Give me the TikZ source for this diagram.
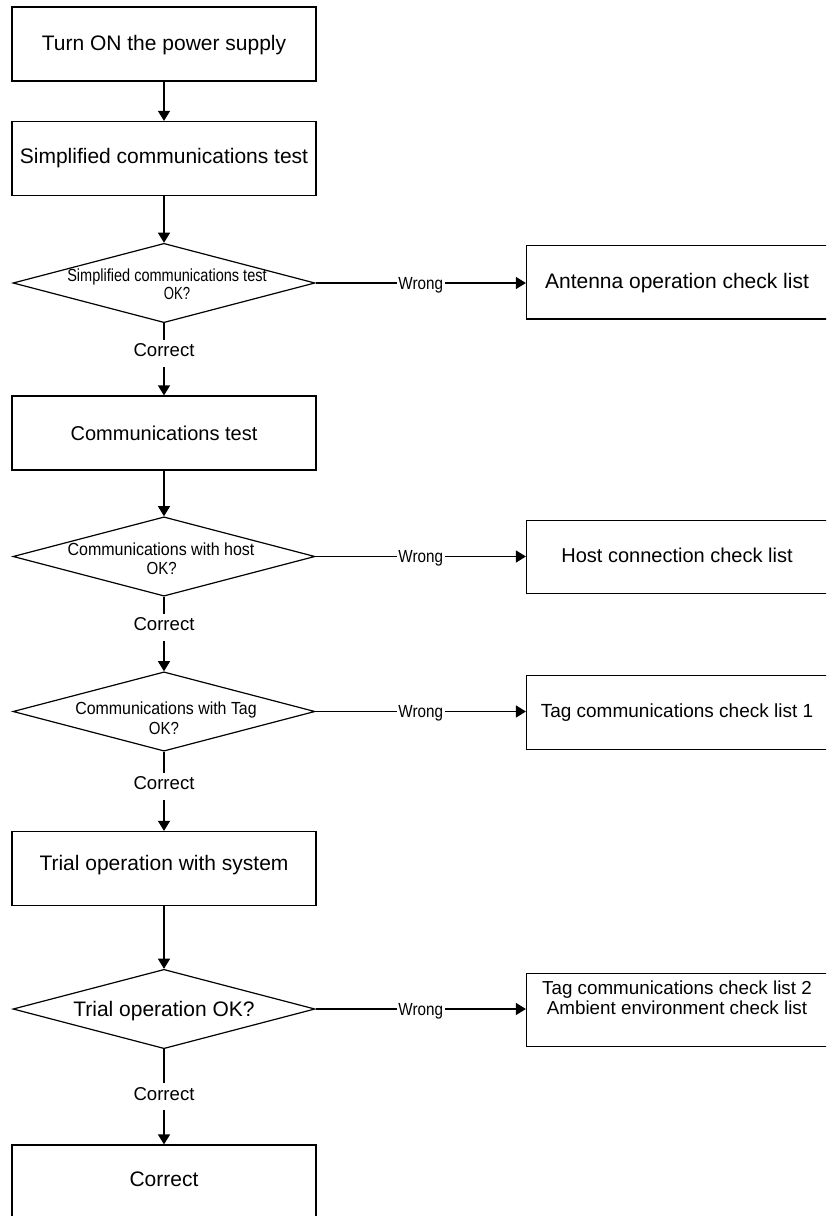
\documentclass[tikz,border=0pt]{standalone}
\usepackage{graphicx}
\usepackage{fontspec}
\setmainfont{Liberation Sans}
\usetikzlibrary{shapes.geometric,arrows.meta}

% horizontally condensed text
\newcommand{\squeeze}[2]{\scalebox{#1}[1]{#2}}

\tikzset{
  line/.style={draw=black, line width=0.9pt},
  arr/.style={line, -{Triangle[length=7.5pt,width=9pt]}},
  % process box; the argument raises the text inside the box
  proc/.style={line, rectangle, minimum width=228pt, minimum height=55.5pt,
    inner sep=0pt, font=\fontsize{15.75pt}{18pt}\selectfont,
    text height=11.28pt, text depth=#1},
  proc/.default=0pt,
  % check-list box on the right
  rbox/.style={line, rectangle, minimum width=225.75pt, minimum height=55pt,
    inner sep=0pt, font=\fontsize{15.75pt}{18pt}\selectfont,
    text height=11.28pt, text depth=#1},
  rbox/.default=0pt,
  decision/.style={line, diamond, minimum width=226.5pt, minimum height=59.5pt,
    inner sep=0pt},
  dtext/.style={inner sep=0pt, font=\fontsize{13.125pt}{15pt}\selectfont,
    text height=9.4pt, text depth=0pt},
  dbig/.style={inner sep=0pt, font=\fontsize{15.75pt}{18pt}\selectfont,
    text height=11.28pt, text depth=0pt},
  ltext/.style={inner sep=0pt, font=\fontsize{14.1pt}{16pt}\selectfont,
    text height=10.1pt, text depth=0pt},
  wlab/.style={fill=white, font=\fontsize{13.125pt}{15pt}\selectfont,
    text height=9.4pt, text depth=0pt, inner xsep=1.2pt, inner ysep=3pt},
  clab/.style={fill=white, font=\fontsize{13.95pt}{16pt}\selectfont,
    text height=12.5pt, text depth=7.7pt, inner sep=0pt},
}

\begin{document}
\begin{tikzpicture}[x=0.75pt,y=-0.75pt]
\useasboundingbox (0,0) rectangle (826,1216);
\clip (0,0) rectangle (826,1216);

% main column
\node[proc=1.5pt] (b1) at (164,44) {Turn ON the power supply};
\node[proc=3.75pt] (b2) at (164,158.5) {Simplified communications test};
\node[decision,
  label={[dtext,xshift=2.25pt,yshift=5.6pt]center:\squeeze{0.83}{Simplified communications test}},
  label={[dtext,xshift=9.75pt,yshift=-7.7pt]center:\squeeze{0.75}{OK?}}] (d1) at (164,283) {};
\node[proc, font=\fontsize{15pt}{18pt}\selectfont, text height=10.74pt] (b3) at (164,433) {Communications test};
\node[decision,
  label={[dtext,xshift=-2.25pt,yshift=5.8pt]center:\squeeze{0.915}{Communications with host}},
  label={[dtext,xshift=-1.7pt,yshift=-8.6pt]center:\squeeze{0.86}{OK?}}] (d2) at (164,556.5) {};
\node[decision,
  label={[dtext,xshift=1.5pt,yshift=2.6pt]center:\squeeze{0.91}{Communications with Tag}},
  label={[dtext,yshift=-12.4pt]center:\squeeze{0.86}{OK?}}] (d3) at (164,711.5) {};
\node[proc=8.25pt] (b4) at (164,868.5) {Trial operation with system};
\node[decision,
  label={[dbig]center:Trial operation OK?}] (d4) at (164,1009) {};
\node[proc=4.5pt] (b5) at (164,1182) {Correct};

% check lists
\node[rbox=2pt] (a1) at (677,282.3) {Antenna operation check list};
\node[rbox=2.25pt, font=\fontsize{15pt}{18pt}\selectfont, text height=10.74pt] (h1) at (677,557) {Host connection check list};
\node[rbox=2.7pt, font=\fontsize{14.25pt}{17pt}\selectfont, text height=10.2pt] (t1) at (677,712.5) {Tag communications check list 1};
\node[rbox,
  label={[ltext,yshift=16.5pt]center:Tag communications check list 2},
  label={[ltext,yshift=1.7pt]center:Ambient environment check list}] (t2) at (677,1010) {};

% main flow
\draw[arr] (b1) -- (b2);
\draw[arr] (b2) -- (d1);
\draw[arr] (d1) -- node[clab,pos=0.42]{Correct} (b3);
\draw[arr] (b3) -- (d2);
\draw[arr] (d2) -- node[clab,pos=0.41]{Correct} (d3);
\draw[arr] (d3) -- node[clab,pos=0.44]{Correct} (b4);
\draw[arr] (b4) -- (d4);
\draw[arr] (d4) -- node[clab,pos=0.50]{Correct} (b5);

% failure branches
\draw[arr] (d1.east) -- node[wlab]{\squeeze{0.87}{Wrong}} (d1.east -| a1.west);
\draw[arr] (d2.east) -- node[wlab]{\squeeze{0.87}{Wrong}} (d2.east -| h1.west);
\draw[arr] (d3.east) -- node[wlab]{\squeeze{0.87}{Wrong}} (d3.east -| t1.west);
\draw[arr] (d4.east) -- node[wlab]{\squeeze{0.87}{Wrong}} (d4.east -| t2.west);
\end{tikzpicture}
\end{document}
